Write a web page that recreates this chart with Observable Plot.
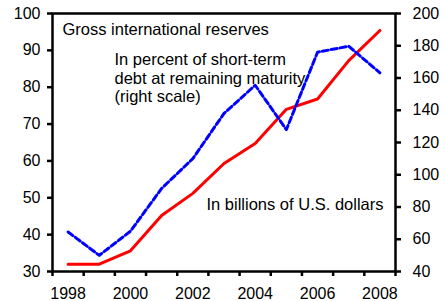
<!DOCTYPE html>
<html>
<head>
<meta charset="utf-8">
<script src="https://cdn.jsdelivr.net/npm/d3@7"></script>
<script src="https://cdn.jsdelivr.net/npm/@observablehq/plot@0.6"></script>
<style>
  html, body { margin: 0; padding: 0; background: #fff; }
  #chart { width: 445px; height: 301px; overflow: hidden; }
</style>
</head>
<body>
<div id="chart"></div>
<script>
// Data
const years = [1998, 1999, 2000, 2001, 2002, 2003, 2004, 2005, 2006, 2007, 2008];
const reservesBn = [32, 32, 35.6, 45.2, 51.2, 59.3, 64.7, 74, 76.8, 87.2, 95.4];
const pctShortTermDebt = [64.5, 50, 65, 91.5, 110, 138, 155.5, 128, 176, 179.7, 163.2];
const leftTicks = [30, 40, 50, 60, 70, 80, 90, 100];
const rightTicks = [40, 60, 80, 100, 120, 140, 160, 180, 200];
const xLabelYears = [1998, 2000, 2002, 2004, 2006, 2008];
const titleText = "Gross international reserves";
const pctNote = "In percent of short-term\ndebt at remaining maturity\n(right scale)";
const usdNote = "In billions of U.S. dollars";

// Right scale (40–200) mapped onto the left scale (30–100)
const leftDomain = [30, 100];
const rightDomain = [40, 200];
const toLeft = v => leftDomain[0] + (v - rightDomain[0]) * (leftDomain[1] - leftDomain[0]) / (rightDomain[1] - rightDomain[0]);
const fromLeft = v => rightDomain[0] + (v - leftDomain[0]) * (rightDomain[1] - rightDomain[0]) / (leftDomain[1] - leftDomain[0]);

const rows = years.map((yr, i) => ({year: yr, reserves: reservesBn[i], pct: pctShortTermDebt[i]}));
const bandEdges = d3.range(years[0] - 0.5, years[years.length - 1] + 1, 1);

const chart = Plot.plot({
  width: 445,
  height: 301,
  marginLeft: 52,
  marginRight: 50,
  marginTop: 13,
  marginBottom: 30,
  style: {fontFamily: "'Liberation Sans', Arial, sans-serif", fontSize: "16px", color: "#000", background: "#fff"},
  x: {domain: [years[0] - 0.5, years[years.length - 1] + 0.5]},
  y: {domain: leftDomain},
  marks: [
    Plot.line(rows, {x: "year", y: "reserves", stroke: "#ff0000", strokeWidth: 3}),
    Plot.line(rows, {x: "year", y: d => toLeft(d.pct), stroke: "#0000ff", strokeWidth: 3, strokeDasharray: "6,3"}),
    Plot.frame({stroke: "#000", strokeWidth: 2.5}),
    Plot.axisY(leftTicks, {anchor: "left", tickSize: 5, tickPadding: 7, strokeWidth: 2.5, label: null, fontSize: 16}),
    Plot.axisY(rightTicks.map(toLeft), {anchor: "right", tickSize: 5, tickPadding: 12, strokeWidth: 2.5, label: null, fontSize: 16,
      tickFormat: d => String(Math.round(fromLeft(d)))}),
    Plot.axisX(xLabelYears, {tickSize: 0, tickPadding: 16, label: null, fontSize: 16, tickFormat: d => String(d)}),
    Plot.axisX(bandEdges, {tickSize: 5, strokeWidth: 2.5, label: null, tickFormat: () => ""}),
    Plot.text([titleText], {frameAnchor: "top-left", textAnchor: "start", lineAnchor: "top", dx: 10, dy: 10, fontSize: 16.5}),
    Plot.text([pctNote], {frameAnchor: "top-left", textAnchor: "start", lineAnchor: "top", dx: 62, dy: 39, lineHeight: 1.1, fontSize: 16.5}),
    Plot.text([usdNote], {frameAnchor: "top-right", textAnchor: "end", lineAnchor: "top", dx: -12, dy: 185, fontSize: 16.5})
  ]
});
document.getElementById("chart").appendChild(chart);
</script>
</body>
</html>
